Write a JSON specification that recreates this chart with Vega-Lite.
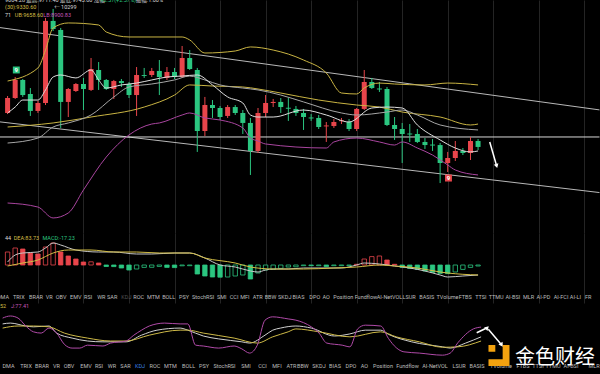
{
"$schema":"https://vega.github.io/schema/vega-lite/v6.json",
"background":"#000000",
"padding":0,
"spacing":0,
"config":{"view":{"stroke":null},"axis":{"labels":false,"ticks":false,"domain":false,"title":null,"grid":true,"gridColor":"#242424","gridWidth":1},"text":{"font":"Roboto, 'Noto Sans CJK SC'"}},
"datasets":{
"candles":[
{"i":0,"o":9423,"h":9566,"l":9414,"c":9549},{"i":1,"o":9549,"h":9726,"l":9541,"c":9701},{"i":2,"o":9701,"h":9709,"l":9558,"c":9574},{"i":3,"o":9583,"h":9633,"l":9398,"c":9440},{"i":4,"o":9440,"h":9524,"l":9423,"c":9507},{"i":5,"o":9507,"h":10223,"l":9490,"c":10198},{"i":6,"o":10198,"h":10299,"l":10113,"c":10130},{"i":7,"o":10122,"h":10139,"l":9297,"c":9516},{"i":8,"o":9516,"h":9633,"l":9389,"c":9625},{"i":9,"o":9608,"h":9675,"l":9600,"c":9667},{"i":10,"o":9667,"h":9718,"l":9448,"c":9625},{"i":11,"o":9617,"h":9886,"l":9608,"c":9793},{"i":12,"o":9785,"h":9852,"l":9617,"c":9701},{"i":13,"o":9701,"h":9709,"l":9617,"c":9625},{"i":14,"o":9625,"h":9701,"l":9541,"c":9692},{"i":15,"o":9692,"h":9709,"l":9642,"c":9675},{"i":16,"o":9667,"h":9684,"l":9549,"c":9574},{"i":17,"o":9574,"h":9810,"l":9398,"c":9743},{"i":18,"o":9743,"h":9802,"l":9718,"c":9735},{"i":19,"o":9743,"h":9802,"l":9726,"c":9777},{"i":20,"o":9777,"h":9869,"l":9574,"c":9726},{"i":21,"o":9718,"h":9810,"l":9701,"c":9768},{"i":22,"o":9768,"h":9802,"l":9709,"c":9726},{"i":23,"o":9726,"h":9987,"l":9718,"c":9886},{"i":24,"o":9886,"h":9953,"l":9785,"c":9793},{"i":25,"o":9785,"h":9802,"l":9095,"c":9271},{"i":26,"o":9271,"h":9558,"l":9229,"c":9490},{"i":27,"o":9490,"h":9532,"l":9381,"c":9465},{"i":28,"o":9465,"h":9482,"l":9364,"c":9389},{"i":29,"o":9398,"h":9490,"l":9381,"c":9473},{"i":30,"o":9473,"h":9490,"l":9406,"c":9423},{"i":31,"o":9423,"h":9448,"l":9246,"c":9339},{"i":32,"o":9339,"h":9381,"l":8901,"c":9103},{"i":33,"o":9103,"h":9465,"l":9086,"c":9423},{"i":34,"o":9423,"h":9574,"l":9389,"c":9507},{"i":35,"o":9507,"h":9541,"l":9473,"c":9516},{"i":36,"o":9516,"h":9549,"l":9423,"c":9473},{"i":37,"o":9467,"h":9549,"l":9356,"c":9459},{"i":38,"o":9457,"h":9482,"l":9398,"c":9423},{"i":39,"o":9423,"h":9457,"l":9280,"c":9389},{"i":40,"o":9385,"h":9414,"l":9356,"c":9377},{"i":41,"o":9381,"h":9406,"l":9288,"c":9305},{"i":42,"o":9310,"h":9347,"l":9179,"c":9318},{"i":43,"o":9313,"h":9372,"l":9297,"c":9347},{"i":44,"o":9354,"h":9381,"l":9330,"c":9362},{"i":45,"o":9347,"h":9372,"l":9271,"c":9288},{"i":46,"o":9288,"h":9465,"l":9271,"c":9457},{"i":47,"o":9457,"h":9785,"l":9448,"c":9684},{"i":48,"o":9684,"h":9718,"l":9625,"c":9633},{"i":49,"o":9629,"h":9684,"l":9600,"c":9621},{"i":50,"o":9625,"h":9642,"l":9313,"c":9322},{"i":51,"o":9322,"h":9389,"l":9196,"c":9288},{"i":52,"o":9288,"h":9339,"l":9002,"c":9246},{"i":53,"o":9250,"h":9330,"l":9179,"c":9242},{"i":54,"o":9246,"h":9288,"l":9170,"c":9179},{"i":55,"o":9179,"h":9212,"l":9120,"c":9153},{"i":56,"o":9157,"h":9204,"l":9103,"c":9149},{"i":57,"o":9153,"h":9170,"l":8833,"c":9002},{"i":58,"o":9002,"h":9095,"l":8926,"c":9044},{"i":59,"o":9044,"h":9187,"l":9019,"c":9103},{"i":60,"o":9103,"h":9128,"l":9069,"c":9086},{"i":61,"o":9086,"h":9221,"l":9027,"c":9187},{"i":62,"o":9187,"h":9204,"l":9111,"c":9137}
],
"ind":[
{"s":"UB","i":0,"p":9692},{"s":"UB","i":4,"p":9802},{"s":"UB","i":5,"p":9953},{"s":"UB","i":6,"p":10139},{"s":"UB","i":8,"p":10181},{"s":"UB","i":12,"p":10164},{"s":"UB","i":13,"p":10105},{"s":"UB","i":16,"p":10063},{"s":"UB","i":23,"p":10063},{"s":"UB","i":24,"p":10038},{"s":"UB","i":26,"p":9928},{"s":"UB","i":30,"p":9945},{"s":"UB","i":32,"p":9979},{"s":"UB","i":35,"p":9953},{"s":"UB","i":39,"p":9869},{"s":"UB","i":42,"p":9760},{"s":"UB","i":44,"p":9591},{"s":"UB","i":46,"p":9583},{"s":"UB","i":47,"p":9633},{"s":"UB","i":49,"p":9675},{"s":"UB","i":51,"p":9667},{"s":"UB","i":55,"p":9659},{"s":"UB","i":58,"p":9675},{"s":"UB","i":62,"p":9659},
{"s":"MA30","i":0,"p":9305},{"s":"MA30","i":6,"p":9339},{"s":"MA30","i":11,"p":9389},{"s":"MA30","i":18,"p":9473},{"s":"MA30","i":22,"p":9574},{"s":"MA30","i":24,"p":9659},{"s":"MA30","i":27,"p":9650},{"s":"MA30","i":31,"p":9642},{"s":"MA30","i":33,"p":9625},{"s":"MA30","i":36,"p":9591},{"s":"MA30","i":41,"p":9532},{"s":"MA30","i":46,"p":9490},{"s":"MA30","i":49,"p":9473},{"s":"MA30","i":52,"p":9431},{"s":"MA30","i":57,"p":9389},{"s":"MA30","i":61,"p":9322},{"s":"MA30","i":62,"p":9330},
{"s":"MB","i":0,"p":9170},{"s":"MB","i":4,"p":9212},{"s":"MB","i":6,"p":9305},{"s":"MB","i":8,"p":9339},{"s":"MB","i":11,"p":9406},{"s":"MB","i":14,"p":9558},{"s":"MB","i":16,"p":9642},{"s":"MB","i":19,"p":9667},{"s":"MB","i":22,"p":9701},{"s":"MB","i":24,"p":9734},{"s":"MB","i":26,"p":9701},{"s":"MB","i":28,"p":9659},{"s":"MB","i":31,"p":9633},{"s":"MB","i":33,"p":9617},{"s":"MB","i":36,"p":9574},{"s":"MB","i":39,"p":9516},{"s":"MB","i":44,"p":9423},{"s":"MB","i":46,"p":9406},{"s":"MB","i":50,"p":9431},{"s":"MB","i":52,"p":9448},{"s":"MB","i":54,"p":9406},{"s":"MB","i":57,"p":9322},{"s":"MB","i":62,"p":9280},
{"s":"MA","i":0,"p":9423},{"s":"MA","i":1,"p":9473},{"s":"MA","i":2,"p":9532},{"s":"MA","i":4,"p":9532},{"s":"MA","i":5,"p":9617},{"s":"MA","i":6,"p":9726},{"s":"MA","i":7,"p":9743},{"s":"MA","i":9,"p":9718},{"s":"MA","i":11,"p":9785},{"s":"MA","i":12,"p":9701},{"s":"MA","i":13,"p":9633},{"s":"MA","i":15,"p":9659},{"s":"MA","i":17,"p":9675},{"s":"MA","i":19,"p":9701},{"s":"MA","i":21,"p":9726},{"s":"MA","i":23,"p":9734},{"s":"MA","i":25,"p":9743},{"s":"MA","i":27,"p":9659},{"s":"MA","i":29,"p":9558},{"s":"MA","i":31,"p":9507},{"s":"MA","i":32,"p":9406},{"s":"MA","i":33,"p":9389},{"s":"MA","i":35,"p":9389},{"s":"MA","i":39,"p":9448},{"s":"MA","i":42,"p":9406},{"s":"MA","i":45,"p":9347},{"s":"MA","i":48,"p":9465},{"s":"MA","i":50,"p":9473},{"s":"MA","i":52,"p":9465},{"s":"MA","i":54,"p":9322},{"s":"MA","i":57,"p":9196},{"s":"MA","i":59,"p":9128},{"s":"MA","i":61,"p":9095},{"s":"MA","i":62,"p":9103},
{"s":"LB","i":0,"p":8665},{"s":"LB","i":4,"p":8631},{"s":"LB","i":6,"p":8539},{"s":"LB","i":8,"p":8581},{"s":"LB","i":10,"p":8775},{"s":"LB","i":13,"p":9052},{"s":"LB","i":16,"p":9238},{"s":"LB","i":19,"p":9330},{"s":"LB","i":20,"p":9339},{"s":"LB","i":23,"p":9406},{"s":"LB","i":24,"p":9423},{"s":"LB","i":26,"p":9381},{"s":"LB","i":28,"p":9364},{"s":"LB","i":31,"p":9297},{"s":"LB","i":32,"p":9212},{"s":"LB","i":33,"p":9187},{"s":"LB","i":34,"p":9162},{"s":"LB","i":42,"p":9128},{"s":"LB","i":43,"p":9179},{"s":"LB","i":46,"p":9212},{"s":"LB","i":49,"p":9179},{"s":"LB","i":51,"p":9153},{"s":"LB","i":52,"p":9179},{"s":"LB","i":54,"p":9128},{"s":"LB","i":56,"p":9069},{"s":"LB","i":58,"p":8985},{"s":"LB","i":59,"p":8943},{"s":"LB","i":62,"p":8901}
],
"trend":[{"t":"up","i":-1,"p":10142},{"t":"up","i":78,"p":9449},{"t":"low","i":-1,"p":9348},{"t":"low","i":78,"p":8753},{"t":"h","i":-1,"p":9221},{"t":"h","i":78,"p":9221}],
"arr1":[{"i":63.54,"p":9179,"e":0},{"i":64.45,"p":8977,"e":1}],
"marks9":[{"i":1.15,"p":9785,"n":"9","k":"buy"},{"i":58.1,"p":8875,"n":"9","k":"sell"}],
"hm":[{"t":"9604.28  最高:9711.40  最低:9743.00  涨幅","i":-0.34,"p":10376,"k":"w"},{"t":"+2.57(+2.57%)","i":12.23,"p":10376,"k":"g"},{"t":"振幅:1.00%","i":16.9,"p":10376,"k":"w"},{"t":"(30):9330.60","i":-0.34,"p":10315,"k":"y"},{"t":"← 10299","i":6.14,"p":10315,"k":"w"},{"t":"71","i":-0.34,"p":10248,"k":"w"},{"t":"UB:9658.60","i":0.955,"p":10248,"k":"y"},{"t":"LB:8900.83","i":4.71,"p":10248,"k":"m"}],
"hist":[{"i":0,"v":65},{"i":1,"v":85},{"i":2,"v":80},{"i":3,"v":60},{"i":4,"v":55},{"i":5,"v":90},{"i":6,"v":110},{"i":7,"v":65},{"i":8,"v":45},{"i":9,"v":30},{"i":10,"v":15},{"i":11,"v":16},{"i":12,"v":10},{"i":13,"v":-7.5},{"i":14,"v":-8},{"i":15,"v":-15},{"i":16,"v":-25},{"i":17,"v":-20},{"i":18,"v":-12},{"i":19,"v":-11.5},{"i":20,"v":-7},{"i":21,"v":-12},{"i":22,"v":-13},{"i":23,"v":-4},{"i":24,"v":-3.5},{"i":25,"v":-45},{"i":26,"v":-55},{"i":27,"v":-60},{"i":28,"v":-61},{"i":29,"v":-60},{"i":30,"v":-55},{"i":31,"v":-50},{"i":32,"v":-70},{"i":33,"v":-40},{"i":34,"v":-25},{"i":35,"v":-22},{"i":36,"v":-17},{"i":37,"v":-10},{"i":38,"v":-9},{"i":39,"v":-3.5},{"i":40,"v":-3.6},{"i":41,"v":-3.5},{"i":42,"v":-8},{"i":43,"v":-3.5},{"i":44,"v":-3.4},{"i":45,"v":-3.3},{"i":46,"v":3.5},{"i":47,"v":30},{"i":48,"v":42},{"i":49,"v":45},{"i":50,"v":25},{"i":51,"v":3.5},{"i":52,"v":-12},{"i":53,"v":-17},{"i":54,"v":-22},{"i":55,"v":-30},{"i":56,"v":-37},{"i":57,"v":-42},{"i":58,"v":-43},{"i":59,"v":-35},{"i":60,"v":-22},{"i":61,"v":-12},{"i":62,"v":-5}],
"macdl":[
{"s":"DIF","i":0,"v":15},{"s":"DIF","i":1,"v":50},{"s":"DIF","i":2,"v":60},{"s":"DIF","i":4,"v":65},{"s":"DIF","i":5,"v":85},{"s":"DIF","i":6,"v":110},{"s":"DIF","i":7,"v":100},{"s":"DIF","i":9,"v":75},{"s":"DIF","i":12,"v":65},{"s":"DIF","i":14,"v":65},{"s":"DIF","i":17,"v":55},{"s":"DIF","i":19,"v":55},{"s":"DIF","i":22,"v":60},{"s":"DIF","i":24,"v":60},{"s":"DIF","i":26,"v":35},{"s":"DIF","i":28,"v":0},{"s":"DIF","i":30,"v":-10},{"s":"DIF","i":32,"v":-30},{"s":"DIF","i":33,"v":-35},{"s":"DIF","i":34,"v":-25},{"s":"DIF","i":35,"v":-20},{"s":"DIF","i":37,"v":-20},{"s":"DIF","i":39,"v":-15},{"s":"DIF","i":44,"v":-15},{"s":"DIF","i":46,"v":0},{"s":"DIF","i":47,"v":10},{"s":"DIF","i":49,"v":5},{"s":"DIF","i":51,"v":-5},{"s":"DIF","i":53,"v":-15},{"s":"DIF","i":55,"v":-30},{"s":"DIF","i":57,"v":-50},{"s":"DIF","i":58,"v":-60},{"s":"DIF","i":60,"v":-55},{"s":"DIF","i":62,"v":-50},
{"s":"DEA","i":0,"v":-5},{"s":"DEA","i":2,"v":10},{"s":"DEA","i":4,"v":25},{"s":"DEA","i":6,"v":60},{"s":"DEA","i":8,"v":75},{"s":"DEA","i":11,"v":75},{"s":"DEA","i":14,"v":65},{"s":"DEA","i":17,"v":65},{"s":"DEA","i":20,"v":60},{"s":"DEA","i":24,"v":60},{"s":"DEA","i":26,"v":35},{"s":"DEA","i":30,"v":10},{"s":"DEA","i":32,"v":-10},{"s":"DEA","i":35,"v":-20},{"s":"DEA","i":39,"v":-20},{"s":"DEA","i":43,"v":-15},{"s":"DEA","i":46,"v":-10},{"s":"DEA","i":49,"v":0},{"s":"DEA","i":51,"v":-5},{"s":"DEA","i":54,"v":-15},{"s":"DEA","i":57,"v":-35},{"s":"DEA","i":58,"v":-40},{"s":"DEA","i":62,"v":-50}
],
"hc":[{"t":"44","i":-0.34,"v":135,"k":"w"},{"t":"DEA:83.73","i":0.8,"v":135,"k":"y"},{"t":"MACD:-17.23","i":4.6,"v":135,"k":"g"}],
"tabs1":[{"t":"DMA","i":-0.6},{"t":"TRIX","i":1.47},{"t":"BRAR","i":3.74},{"t":"VR","i":5.49},{"t":"OBV","i":7.05},{"t":"EMV","i":8.99},{"t":"RSI","i":10.61},{"t":"WR","i":12.36},{"t":"SAR","i":13.78},{"t":"KDJ","i":15.66},{"t":"ROC","i":17.28},{"t":"MTM","i":19.23},{"t":"BOLL","i":21.23},{"t":"PSY","i":23.24},{"t":"StochRSI","i":25.77},{"t":"SMI","i":28.23},{"t":"CCI","i":29.85},{"t":"MFI","i":31.28},{"t":"ATR","i":32.96},{"t":"BBW","i":34.65},{"t":"SKDJ","i":36.53},{"t":"BIAS","i":38.34},{"t":"DPO","i":40.48},{"t":"AO","i":41.97},{"t":"Position","i":44.24},{"t":"Fundflow","i":47.22},{"t":"AI-NetVOL","i":50.33},{"t":"LSUR","i":52.92},{"t":"BASIS","i":55.25},{"t":"TVolume","i":57.97},{"t":"FTBS","i":60.3},{"t":"TTSI","i":62.38},{"t":"TTMU","i":64.39},{"t":"AI-BSI","i":66.59},{"t":"MLR","i":68.66},{"t":"AI-PD","i":70.61},{"t":"AI-FCI","i":72.94},{"t":"AI-LI","i":74.82},{"t":"FR","i":76.5}],
"kdj":[
{"s":"K","i":0,"v":85},{"s":"K","i":1,"v":87},{"s":"K","i":3,"v":80},{"s":"K","i":4,"v":78},{"s":"K","i":6,"v":80},{"s":"K","i":7,"v":63},{"s":"K","i":9,"v":51},{"s":"K","i":11,"v":44},{"s":"K","i":13,"v":42},{"s":"K","i":16,"v":42},{"s":"K","i":18,"v":58},{"s":"K","i":20,"v":70},{"s":"K","i":23,"v":75},{"s":"K","i":24,"v":70},{"s":"K","i":26,"v":56},{"s":"K","i":28,"v":49},{"s":"K","i":31,"v":42},{"s":"K","i":32,"v":39},{"s":"K","i":34,"v":58},{"s":"K","i":35,"v":70},{"s":"K","i":36,"v":75},{"s":"K","i":38,"v":80},{"s":"K","i":40,"v":75},{"s":"K","i":43,"v":56},{"s":"K","i":45,"v":61},{"s":"K","i":47,"v":70},{"s":"K","i":49,"v":70},{"s":"K","i":50,"v":60},{"s":"K","i":53,"v":42},{"s":"K","i":57,"v":30},{"s":"K","i":58,"v":27},{"s":"K","i":60,"v":39},{"s":"K","i":62,"v":54},
{"s":"D","i":0,"v":75},{"s":"D","i":2,"v":80},{"s":"D","i":4,"v":80},{"s":"D","i":6,"v":78},{"s":"D","i":8,"v":63},{"s":"D","i":11,"v":51},{"s":"D","i":14,"v":44},{"s":"D","i":16,"v":44},{"s":"D","i":19,"v":58},{"s":"D","i":23,"v":70},{"s":"D","i":24,"v":70},{"s":"D","i":26,"v":63},{"s":"D","i":30,"v":51},{"s":"D","i":33,"v":39},{"s":"D","i":35,"v":54},{"s":"D","i":37,"v":66},{"s":"D","i":38,"v":73},{"s":"D","i":41,"v":66},{"s":"D","i":45,"v":54},{"s":"D","i":49,"v":66},{"s":"D","i":51,"v":54},{"s":"D","i":54,"v":42},{"s":"D","i":57,"v":29},{"s":"D","i":59,"v":30},{"s":"D","i":62,"v":44},
{"s":"J","i":0,"v":99},{"s":"J","i":1,"v":104},{"s":"J","i":2,"v":99},{"s":"J","i":3,"v":80},{"s":"J","i":4,"v":66},{"s":"J","i":5,"v":63},{"s":"J","i":6,"v":75},{"s":"J","i":7,"v":63},{"s":"J","i":8,"v":36},{"s":"J","i":9,"v":27},{"s":"J","i":10,"v":27},{"s":"J","i":11,"v":34},{"s":"J","i":13,"v":32},{"s":"J","i":14,"v":39},{"s":"J","i":16,"v":44},{"s":"J","i":17,"v":58},{"s":"J","i":18,"v":70},{"s":"J","i":19,"v":80},{"s":"J","i":21,"v":87},{"s":"J","i":23,"v":85},{"s":"J","i":24,"v":85},{"s":"J","i":25,"v":34},{"s":"J","i":26,"v":32},{"s":"J","i":28,"v":27},{"s":"J","i":30,"v":32},{"s":"J","i":31,"v":25},{"s":"J","i":32,"v":15},{"s":"J","i":33,"v":34},{"s":"J","i":34,"v":94},{"s":"J","i":35,"v":102},{"s":"J","i":37,"v":97},{"s":"J","i":38,"v":94},{"s":"J","i":40,"v":78},{"s":"J","i":41,"v":63},{"s":"J","i":42,"v":39},{"s":"J","i":44,"v":34},{"s":"J","i":45,"v":30},{"s":"J","i":46,"v":73},{"s":"J","i":47,"v":82},{"s":"J","i":49,"v":80},{"s":"J","i":50,"v":50},{"s":"J","i":51,"v":28},{"s":"J","i":52,"v":18},{"s":"J","i":54,"v":15},{"s":"J","i":57,"v":10},{"s":"J","i":58,"v":15},{"s":"J","i":59,"v":40},{"s":"J","i":61,"v":73},{"s":"J","i":62,"v":77.41}
],
"levels":[{"v":80},{"v":50},{"v":20}],
"hk":[{"t":"52","i":-0.34,"v":128,"k":"y"},{"t":"J:77.41","i":1.08,"v":128,"k":"m"}],
"tabs2":[{"t":"DMA","i":0.76},{"t":"TRIX","i":3.03},{"t":"BRAR","i":5.1},{"t":"VR","i":6.98},{"t":"OBV","i":8.6},{"t":"EMV","i":10.8},{"t":"RSI","i":12.49},{"t":"WR","i":14.17},{"t":"SAR","i":15.92},{"t":"KDJ","i":17.8},{"t":"ROC","i":19.74},{"t":"MTM","i":21.75},{"t":"BOLL","i":24.09},{"t":"PSY","i":26.09},{"t":"StochRSI","i":28.75},{"t":"SMI","i":31.54},{"t":"CCI","i":33.68},{"t":"MFI","i":35.55},{"t":"ATR","i":37.43},{"t":"BBW","i":38.9},{"t":"SKDJ","i":41.0},{"t":"BIAS","i":43.07},{"t":"DPO","i":45.14},{"t":"AO","i":46.89},{"t":"Position","i":49.29},{"t":"Fundflow","i":52.47},{"t":"AI-NetVOL","i":56.03},{"t":"LSUR","i":59.14},{"t":"BASIS","i":61.47},{"t":"TVolume","i":64.58},{"t":"FTBS","i":67.43},{"t":"TTSI","i":69.37},{"t":"TTMU","i":71.32},{"t":"AI-BSI","i":73.65},{"t":"MLR","i":76.63}],
"arr2":[{"a":"up","i":61.43,"v":63.9,"e":0},{"a":"up","i":62.8,"v":75.9,"e":1},{"a":"dn","i":62.94,"v":72.1,"e":0},{"a":"dn","i":64.67,"v":34.4,"e":1}],
"brand":[{"name":"金色财经","logo":64.32,"lv":9.2,"ti":71.58,"tv":4.4}]
},
"vconcat":[
{
"width":600,"height":233,
"resolve":{"scale":{"color":"independent"}},
"encoding":{"x":{"field":"i","type":"quantitative","scale":{"domain":[-0.341,77.41],"nice":false,"zero":false},"axis":{"values":[4,10,16,22,28,34,40,46,52,58,64,70,76]}}},
"layer":[
{"data":{"name":"trend"},"mark":{"type":"line","clip":true,"strokeWidth":1},
 "encoding":{"y":{"field":"p","type":"quantitative","scale":{"domain":[8412.4,10374.3],"nice":false,"zero":false},"axis":{"values":[8600,9000,9400,9800,10200]}},"detail":{"field":"t"},
 "color":{"field":"t","type":"nominal","scale":{"domain":["up","low","h"],"range":["#b8b8b8","#b8b8b8","#d8d8d8"]},"legend":null}}},
{"data":{"name":"candles"},"mark":{"type":"rule","strokeWidth":1},
 "encoding":{"y":{"field":"l","type":"quantitative","scale":{"domain":[8412.4,10374.3],"nice":false,"zero":false},"axis":null},"y2":{"field":"h"},
 "color":{"condition":{"test":"datum.c >= datum.o","value":"#e8454b"},"value":"#2bc680"}}},
{"data":{"name":"candles"},"mark":{"type":"bar","width":5},
 "encoding":{"y":{"field":"o","type":"quantitative","scale":{"domain":[8412.4,10374.3],"nice":false,"zero":false},"axis":null},"y2":{"field":"c"},
 "color":{"condition":{"test":"datum.c >= datum.o","value":"#e8454b"},"value":"#2bc680"}}},
{"data":{"name":"ind"},"mark":{"type":"line","interpolate":"monotone","strokeWidth":1},
 "encoding":{"y":{"field":"p","type":"quantitative","scale":{"domain":[8412.4,10374.3],"nice":false,"zero":false},"axis":null},"detail":{"field":"s"},
 "color":{"field":"s","type":"nominal","scale":{"domain":["UB","MA30","MB","MA","LB"],"range":["#c9b443","#c9b443","#a6a6a6","#dedede","#a9459f"]},"legend":null}}},
{"data":{"name":"arr1"},"mark":{"type":"line","color":"#ffffff","strokeWidth":1.5},
 "encoding":{"y":{"field":"p","type":"quantitative","scale":{"domain":[8412.4,10374.3],"nice":false,"zero":false},"axis":null}}},
{"data":{"name":"arr1"},"transform":[{"filter":"datum.e == 1"}],"mark":{"type":"point","shape":"triangle-up","filled":true,"color":"#ffffff","size":22,"angle":164,"opacity":1},
 "encoding":{"y":{"field":"p","type":"quantitative","scale":{"domain":[8412.4,10374.3],"nice":false,"zero":false},"axis":null}}},
{"data":{"name":"marks9"},"mark":{"type":"square","size":48,"opacity":1},
 "encoding":{"y":{"field":"p","type":"quantitative","scale":{"domain":[8412.4,10374.3],"nice":false,"zero":false},"axis":null},
 "color":{"condition":{"test":"datum.k === 'buy'","value":"#2bc680"},"value":"#e8454b"}}},
{"data":{"name":"marks9"},"mark":{"type":"text","fontSize":6,"fontWeight":"bold","color":"#ffffff","baseline":"middle","align":"center"},
 "encoding":{"y":{"field":"p","type":"quantitative","scale":{"domain":[8412.4,10374.3],"nice":false,"zero":false},"axis":null},"text":{"field":"n"}}},
{"data":{"name":"hm"},"mark":{"type":"text","fontSize":5.5,"align":"left","baseline":"middle","clip":true},
 "encoding":{"y":{"field":"p","type":"quantitative","scale":{"domain":[8412.4,10374.3],"nice":false,"zero":false},"axis":null},"text":{"field":"t"},
 "color":{"field":"k","type":"nominal","scale":{"domain":["w","y","m","g"],"range":["#dadada","#d4bf45","#c355b7","#2bc680"]},"legend":null}}}
]
},
{
"width":600,"height":70,
"resolve":{"scale":{"color":"independent"}},
"encoding":{"x":{"field":"i","type":"quantitative","scale":{"domain":[-0.341,77.41],"nice":false,"zero":false},"axis":{"values":[4,10,16,22,28,34,40,46,52,58,64,70,76]}}},
"layer":[
{"data":{"name":"hist"},"transform":[{"window":[{"op":"lag","field":"v","as":"pv"}],"sort":[{"field":"i","order":"ascending"}]}],
 "mark":{"type":"bar","width":4.4,"strokeWidth":0.8},
 "encoding":{"y":{"field":"v","type":"quantitative","scale":{"domain":[-190,160],"nice":false,"zero":false},"axis":{"values":[160,-125,-190]}},"y2":{"datum":0},
 "stroke":{"condition":{"test":"datum.v >= 0","value":"#e8454b"},"value":"#2bc680"},
 "fill":{"condition":[{"test":"datum.pv == null || datum.v > datum.pv","value":"#000000"},{"test":"datum.v >= 0","value":"#e8454b"}],"value":"#2bc680"}}},
{"data":{"name":"macdl"},"mark":{"type":"line","interpolate":"monotone","strokeWidth":1},
 "encoding":{"y":{"field":"v","type":"quantitative","scale":{"domain":[-190,160],"nice":false,"zero":false},"axis":null},"detail":{"field":"s"},
 "color":{"field":"s","type":"nominal","scale":{"domain":["DIF","DEA"],"range":["#c8c8c8","#d2bd45"]},"legend":null}}},
{"data":{"name":"hc"},"mark":{"type":"text","fontSize":5.5,"align":"left","baseline":"middle","clip":true},
 "encoding":{"y":{"field":"v","type":"quantitative","scale":{"domain":[-190,160],"nice":false,"zero":false},"axis":null},"text":{"field":"t"},
 "color":{"field":"k","type":"nominal","scale":{"domain":["w","y","m","g"],"range":["#dadada","#d4bf45","#c355b7","#2bc680"]},"legend":null}}},
{"data":{"name":"tabs1"},"mark":{"type":"text","fontSize":5.5,"align":"center","baseline":"middle","clip":true},
 "encoding":{"y":{"datum":-160,"type":"quantitative","scale":{"domain":[-190,160],"nice":false,"zero":false},"axis":null},"text":{"field":"t"},
 "color":{"condition":{"test":"datum.t === 'KDJ'","value":"#555555"},"value":"#bdbdbd"}}}
]
},
{
"width":600,"height":71,
"resolve":{"scale":{"color":"independent"}},
"encoding":{"x":{"field":"i","type":"quantitative","scale":{"domain":[-0.341,77.41],"nice":false,"zero":false},"axis":{"values":[4,10,16,22,28,34,40,46,52,58,64,70,76]}}},
"layer":[
{"data":{"name":"levels"},"mark":{"type":"rule","strokeDash":[3,3],"color":"#6e6e6e","strokeWidth":1},
 "encoding":{"x":{"datum":-0.341,"type":"quantitative","axis":null},"x2":{"datum":77.41},"y":{"field":"v","type":"quantitative","scale":{"domain":[-35.2,135.2],"nice":false,"zero":false},"axis":null}}},
{"data":{"name":"kdj"},"mark":{"type":"line","interpolate":"monotone","strokeWidth":1},
 "encoding":{"y":{"field":"v","type":"quantitative","scale":{"domain":[-35.2,135.2],"nice":false,"zero":false},"axis":null},"detail":{"field":"s"},
 "color":{"field":"s","type":"nominal","scale":{"domain":["K","D","J"],"range":["#d0d0d0","#cdb947","#b04aa8"]},"legend":null}}},
{"data":{"name":"hk"},"mark":{"type":"text","fontSize":5.5,"align":"left","baseline":"middle","clip":true},
 "encoding":{"y":{"field":"v","type":"quantitative","scale":{"domain":[-35.2,135.2],"nice":false,"zero":false},"axis":null},"text":{"field":"t"},
 "color":{"field":"k","type":"nominal","scale":{"domain":["w","y","m","g"],"range":["#dadada","#d4bf45","#c355b7","#2bc680"]},"legend":null}}},
{"data":{"name":"tabs2"},"mark":{"type":"text","fontSize":5.5,"align":"center","baseline":"middle","clip":true},
 "encoding":{"y":{"datum":-16,"type":"quantitative","scale":{"domain":[-35.2,135.2],"nice":false,"zero":false},"axis":null},"text":{"field":"t"},
 "color":{"condition":{"test":"datum.t === 'KDJ'","value":"#3b82e6"},"value":"#bdbdbd"}}},
{"data":{"name":"arr2"},"mark":{"type":"line","color":"#ffffff","strokeWidth":1.5},
 "encoding":{"y":{"field":"v","type":"quantitative","scale":{"domain":[-35.2,135.2],"nice":false,"zero":false},"axis":null},"detail":{"field":"a"}}},
{"data":{"name":"arr2"},"transform":[{"filter":"datum.e == 1 && datum.a === 'up'"}],"mark":{"type":"point","shape":"triangle-up","filled":true,"color":"#ffffff","size":24,"angle":45,"opacity":1},
 "encoding":{"y":{"field":"v","type":"quantitative","scale":{"domain":[-35.2,135.2],"nice":false,"zero":false},"axis":null}}},
{"data":{"name":"arr2"},"transform":[{"filter":"datum.e == 1 && datum.a === 'dn'"}],"mark":{"type":"point","shape":"triangle-up","filled":true,"color":"#ffffff","size":24,"angle":146,"opacity":1},
 "encoding":{"y":{"field":"v","type":"quantitative","scale":{"domain":[-35.2,135.2],"nice":false,"zero":false},"axis":null}}},
{"data":{"name":"brand"},"mark":{"type":"point","shape":"M-1,-1H-0.35V-0.35H-1Z M0.35,-1H1V1H-1V0.35H0.35Z","filled":true,"color":"#f3a20f","size":441,"opacity":1},
 "encoding":{"x":{"field":"logo","type":"quantitative","axis":null},"y":{"field":"lv","type":"quantitative","scale":{"domain":[-35.2,135.2],"nice":false,"zero":false},"axis":null}}},
{"data":{"name":"brand"},"mark":{"type":"text","font":"Noto Sans CJK SC","fontSize":20,"color":"#ffffff","align":"center","baseline":"middle"},
 "encoding":{"x":{"field":"ti","type":"quantitative","axis":null},"y":{"field":"tv","type":"quantitative","scale":{"domain":[-35.2,135.2],"nice":false,"zero":false},"axis":null},"text":{"field":"name"}}}
]
}
]
}
